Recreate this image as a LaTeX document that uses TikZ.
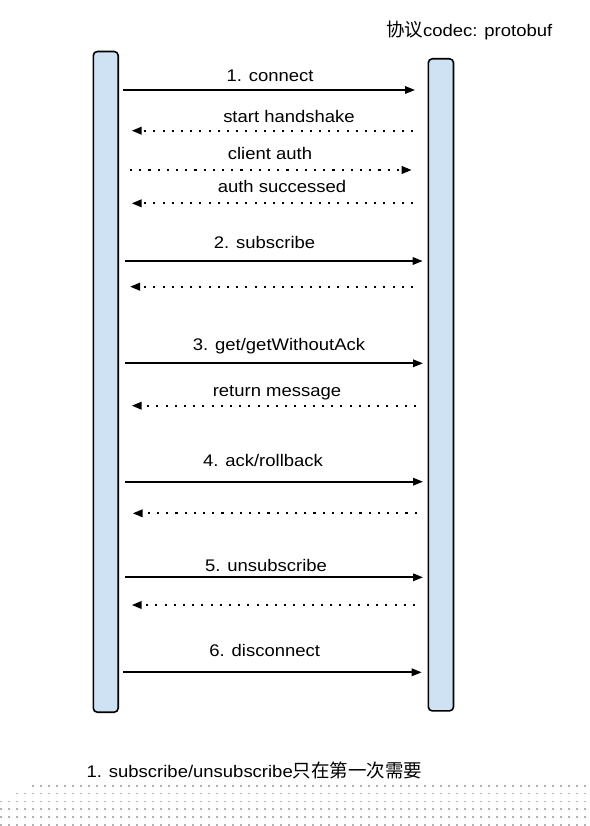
\documentclass[tikz,border=0pt]{standalone}
\usepackage{fontspec}
\setmainfont{Liberation Sans}[FakeStretch=1.1]
\newfontfamily\cjkfont{Noto Sans CJK SC}[Scale=1.1]
\usetikzlibrary{arrows.meta}
\definecolor{barblue}{HTML}{CFE2F3}
\begin{document}
\begin{tikzpicture}[x=1pt,y=-1pt,
  bar/.style={draw=black, line width=1.6pt, fill=barblue, rounded corners=4pt, inner sep=0pt},
  sol/.style={line width=1.7pt, -{Triangle[length=10pt,width=7.5pt]}},
  dotl/.style={line width=2.1pt, dash pattern=on 2.1pt off 7.1pt, -{Triangle[length=10pt,width=7.5pt]}},
  lbl/.style={anchor=base, inner sep=0pt, font=\fontsize{16.8}{20}\selectfont},
  note/.style={anchor=base west, inner sep=0pt, font=\fontsize{16.8}{20}\selectfont},
  dotc/.style={fill=black!30}]
\useasboundingbox (0,0) rectangle (589,826);
\fill[white] (0,0) rectangle (589,826);

% background dot texture
\foreach \x in {32,40,...,588} \fill[dotc] (\x,785) rectangle ++(1.6,1.6);
\foreach \x in {16,24,...,588} \fill[dotc] (\x,792.8) rectangle ++(1.6,1.6);
\foreach \yy in {800.6,808.4,816.2,824} {
  \foreach \x in {0,8,...,588} \fill[dotc] (\x,\yy) rectangle ++(1.6,1.6);
}

% lifelines
\node[bar, minimum width=24.9pt, minimum height=660.7pt] (client) at (105.75,381.85) {};
\node[bar, minimum width=25.2pt, minimum height=652.1pt] (server) at (440.9,384.85) {};

% top label and footnote
\node[note] (codec) at (386,36.7) {{\cjkfont 协议}codec: protobuf};
\node[note] (foot) at (86.5,777.7) {1. subscribe/unsubscribe{\cjkfont 只在第一次需要}};

% message end points
\coordinate (a1) at (123.3,90);   \coordinate (b1) at (415,90);
\coordinate (a2) at (413,130.7);  \coordinate (b2) at (131.7,130.7);
\coordinate (a3) at (130,170);    \coordinate (b3) at (411.7,170);
\coordinate (a4) at (413,203.3);  \coordinate (b4) at (131.7,203.3);
\coordinate (a5) at (125,261);    \coordinate (b5) at (422.7,261);
\coordinate (a6) at (413,286.7);  \coordinate (b6) at (130,286.7);
\coordinate (a7) at (125,363.3);  \coordinate (b7) at (423,363.3);
\coordinate (a8) at (416,405.7);  \coordinate (b8) at (131.7,405.7);
\coordinate (a9) at (125,481.7);  \coordinate (b9) at (423,481.7);
\coordinate (a10) at (416.7,513.3); \coordinate (b10) at (132.7,513.3);
\coordinate (a11) at (125,577.3); \coordinate (b11) at (423,577.3);
\coordinate (a12) at (415,605);   \coordinate (b12) at (131.7,605);
\coordinate (a13) at (123.3,672.3); \coordinate (b13) at (421.7,672.3);

\draw[sol]  (a1) -- (b1);
\draw[dotl] (a2) -- (b2);
\draw[dotl] (a3) -- (b3);
\draw[dotl] (a4) -- (b4);
\draw[sol]  (a5) -- (b5);
\draw[dotl] (a6) -- (b6);
\draw[sol]  (a7) -- (b7);
\draw[dotl] (a8) -- (b8);
\draw[sol]  (a9) -- (b9);
\draw[dotl] (a10) -- (b10);
\draw[sol]  (a11) -- (b11);
\draw[dotl] (a12) -- (b12);
\draw[sol]  (a13) -- (b13);

% labels
\node[lbl] (l1) at (270,81.7) {1. connect};
\node[lbl] (l2) at (289,122.3) {start handshake};
\node[lbl] (l3) at (270,160) {client auth};
\node[lbl] (l4) at (282,192.7) {auth successed};
\node[lbl] (l5) at (264.5,248.3) {2. subscribe};
\node[lbl] (l7) at (279,350.7) {3. get/getWithoutAck};
\node[lbl] (l8) at (277,396.7) {return message};
\node[lbl] (l9) at (263,466.7) {4. ack/rollback};
\node[lbl] (l11) at (266,571) {5. unsubscribe};
\node[lbl] (l13) at (264.7,656.7) {6. disconnect};
\end{tikzpicture}
\end{document}
